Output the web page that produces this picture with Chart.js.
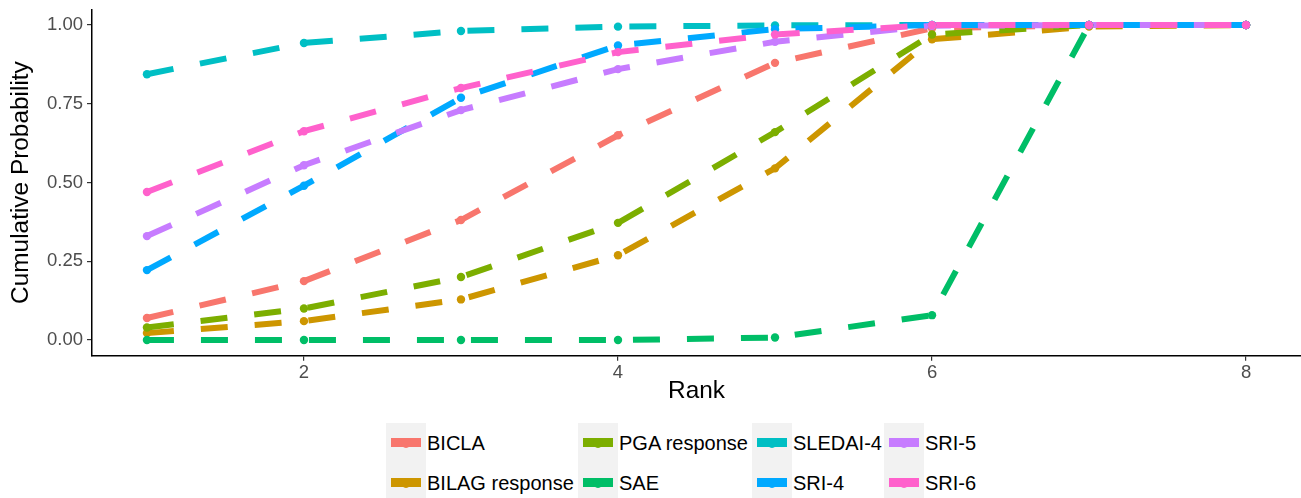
<!DOCTYPE html>
<html>
<head>
<meta charset="utf-8">
<script src="https://cdn.jsdelivr.net/npm/chart.js@4"></script>
<style>
  body { margin: 0; background: #fff; width: 1301px; height: 498px; overflow: hidden; position: relative; font-family: "Liberation Sans", Arial, sans-serif; }
  #chart { position: absolute; left: 0; top: 0; }
  .key { position: absolute; width: 40px; height: 40px; background: #f2f2f2; }
  .key .bar { position: absolute; left: 5px; right: 5px; top: 15px; height: 9px; }
  .key .dot { position: absolute; left: 15px; top: 14.5px; width: 10px; height: 10px; border-radius: 50%; }
  .lab { position: absolute; font-size: 20px; color: #000; line-height: 40px; white-space: nowrap; }
</style>
</head>
<body>
<canvas id="chart" width="1301" height="410"></canvas>
<div id="legend"></div>
<script>
const ranks = [1, 2, 3, 4, 5, 6, 7, 8];
const seriesNames = ["BICLA", "BILAG response", "PGA response", "SAE", "SLEDAI-4", "SRI-4", "SRI-5", "SRI-6"];
const colors = ["#F8766D", "#CD9600", "#7CAE00", "#00BE67", "#00BFC4", "#00A9FF", "#C77CFF", "#FF61CC"];

const bicla   = [0.07, 0.187, 0.381, 0.65, 0.88, 0.99, 1, 1];
const bilag   = [0.022, 0.06, 0.129, 0.269, 0.545, 0.955, 0.995, 1];
const pga     = [0.04, 0.10, 0.20, 0.372, 0.66, 0.97, 1, 1];
const sae     = [0, 0, 0, 0, 0.008, 0.079, 1, 1];
const sledai4 = [0.844, 0.943, 0.981, 0.995, 0.999, 1, 1, 1];
const sri4    = [0.222, 0.49, 0.769, 0.935, 0.987, 1, 1, 1];
const sri5    = [0.33, 0.555, 0.73, 0.86, 0.947, 0.998, 1, 1];
const sri6    = [0.47, 0.663, 0.80, 0.914, 0.97, 1, 1, 1];
const allValues = [bicla, bilag, pga, sae, sledai4, sri4, sri5, sri6];

const xTicks = [2, 4, 6, 8];
const yTicks = [0, 0.25, 0.5, 0.75, 1];

// lines first (under), then points on top, like geom_line + geom_point
let datasets = [];
seriesNames.forEach((name, i) => {
  const pts = ranks.map((r, j) => ({x: r, y: allValues[i][j]}));
  datasets.push({
    label: name,
    data: pts,
    borderColor: colors[i],
    borderWidth: 6,
    borderDash: [27, 27],
    pointRadius: 0,
    fill: false,
    order: 100 + (7 - i)
  });
  datasets.push({
    label: name + " pts",
    data: pts,
    showLine: false,
    pointRadius: 4.2,
    pointBackgroundColor: colors[i],
    pointBorderWidth: 0,
    order: 7 - i
  });
});

const tickFont = {family: "'Liberation Sans', Arial, sans-serif", size: 18.5};
const titleFont = {family: "'Liberation Sans', Arial, sans-serif", size: 24.4};

new Chart(document.getElementById("chart"), {
  type: "line",
  data: {datasets: datasets},
  options: {
    responsive: false,
    animation: false,
    layout: {autoPadding: false, padding: {top: 9.3, right: 0, left: 0, bottom: 0}},
    plugins: {legend: {display: false}, tooltip: {enabled: false}},
    scales: {
      x: {
        type: "linear",
        min: 0.65, max: 8.35,
        afterBuildTicks: s => { s.ticks = xTicks.map(v => ({value: v})); },
        afterFit: s => { s.height = 54.2; s.paddingLeft = 0; s.paddingRight = 0; },
        ticks: {color: "#4d4d4d", font: tickFont, padding: 1, callback: v => String(v)},
        grid: {drawOnChartArea: false, drawTicks: true, tickLength: 5, color: "#333333", lineWidth: 1.2},
        border: {display: true, color: "#000", width: 1.5},
        title: {display: true, text: "Rank", color: "#000", font: titleFont, padding: {top: 0, bottom: 4}}
      },
      y: {
        min: -0.05, max: 1.05,
        afterBuildTicks: s => { s.ticks = yTicks.map(v => ({value: v})); },
        afterFit: s => { s.width = 92; s.paddingTop = 0; s.paddingBottom = 0; },
        ticks: {color: "#4d4d4d", font: tickFont, padding: 4, callback: v => v.toFixed(2)},
        grid: {drawOnChartArea: false, drawTicks: true, tickLength: 5, color: "#333333", lineWidth: 1.2},
        border: {display: true, color: "#000", width: 1.5},
        title: {display: true, text: "Cumulative Probability", color: "#000", font: titleFont, padding: {top: 7, bottom: 0}}
      }
    }
  }
});

// ggplot-style legend, filled column by column (2 rows x 4 columns)
const keyX = [386, 578, 752, 884];
const keyY = [423, 463];
const legend = document.getElementById("legend");
seriesNames.forEach((name, i) => {
  const col = Math.floor(i / 2), row = i % 2;
  const key = document.createElement("div");
  key.className = "key";
  key.style.left = keyX[col] + "px";
  key.style.top = keyY[row] + "px";
  key.innerHTML = '<div class="bar" style="background:' + colors[i] + '"></div><div class="dot" style="background:' + colors[i] + '"></div>';
  legend.appendChild(key);
  const lab = document.createElement("div");
  lab.className = "lab";
  lab.style.left = (keyX[col] + 41) + "px";
  lab.style.top = keyY[row] + "px";
  lab.innerText = name;
  legend.appendChild(lab);
});
</script>
</body>
</html>
